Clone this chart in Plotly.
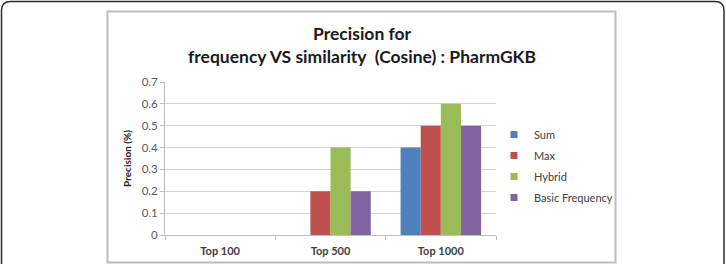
import plotly.graph_objects as go

categories = ["Top 100", "Top 500", "Top 1000"]
series_names = ["Sum", "Max", "Hybrid", "Basic Frequency"]
sum_vals = [0, 0, 0.4]
max_vals = [0, 0.2, 0.5]
hybrid_vals = [0, 0.4, 0.6]
basic_vals = [0, 0.2, 0.5]
y_ticks = [0, 0.1, 0.2, 0.3, 0.4, 0.5, 0.6, 0.7]
y_tick_labels = ["0", "0.1", "0.2", "0.3", "0.4", "0.5", "0.6", "0.7"]
colors = ["#4F81BD", "#C0504D", "#9BBB59", "#8064A2"]

FONT = "Lato"
W, H = 726, 264
L, R, T, B = 165, 496, 82, 235

fig = go.Figure()
for name, vals, c in zip(series_names, [sum_vals, max_vals, hybrid_vals, basic_vals], colors):
    fig.add_trace(go.Bar(x=categories, y=vals, name=name, marker_color=c,
                         marker_line_width=0, showlegend=False))
for name, c in zip(series_names, colors):
    fig.add_trace(go.Scatter(x=[None], y=[None], mode="markers", name=name,
                             legendgroup=name,
                             marker=dict(symbol="square", size=7, color=c)))

def px(x):
    return (x - L) / (R - L)

def py(y):
    return (B - y) / (B - T)

def rrect(x0, y0, x1, y1, r):
    pts = []
    pts.append(f"M {px(x0)},{py(y1)}")
    pts.append(f"L {px(x0)},{py(y0 + r)}")
    pts.append(f"Q {px(x0)},{py(y0)} {px(x0 + r)},{py(y0)}")
    pts.append(f"L {px(x1 - r)},{py(y0)}")
    pts.append(f"Q {px(x1)},{py(y0)} {px(x1)},{py(y0 + r)}")
    pts.append(f"L {px(x1)},{py(y1)}")
    return " ".join(pts)

shapes = [
    dict(type="path", xref="paper", yref="paper", path=rrect(1.5, 1.5, 724, 280, 9),
         line=dict(color="#2b2b2b", width=1.5)),
    dict(type="rect", xref="paper", yref="paper", x0=px(107.5), x1=px(615.5),
         y0=py(262.5), y1=py(11.5), line=dict(color="#BDBDBD", width=2), layer="below"),
]

fig.update_layout(
    width=W, height=H,
    margin=dict(l=L, r=W - R, t=T, b=H - B, autoexpand=False),
    paper_bgcolor="white", plot_bgcolor="white",
    barmode="group", bargap=0.27, bargroupgap=0,
    font=dict(family=FONT, color="#595959", size=11),
    showlegend=True,
    legend=dict(x=px(494), y=py(120), xanchor="left", yanchor="top",
                traceorder="grouped", tracegroupgap=2,
                font=dict(family=FONT, size=11, color="#404040"),
                itemsizing="trace", bgcolor="rgba(0,0,0,0)"),
    shapes=shapes,
    annotations=[
        dict(text="<b>Precision for</b>", xref="paper", yref="paper",
             x=px(362), y=py(33), xanchor="center", yanchor="middle", showarrow=False,
             font=dict(family=FONT, size=17.5, color="#1a1a1a")),
        dict(text="<b>frequency VS similarity  (Cosine) : PharmGKB</b>", xref="paper", yref="paper",
             x=px(362), y=py(57), xanchor="center", yanchor="middle", showarrow=False,
             font=dict(family=FONT, size=17.5, color="#1a1a1a")),
    ],
)
fig.update_xaxes(type="category", showline=True, linecolor="#BFBFBF", linewidth=1,
                 ticks="outside", tickson="boundaries", ticklen=4, tickcolor="#BFBFBF",
                 showgrid=False, tickfont=dict(family=FONT, size=11, color="#404040"),
                 ticklabelstandoff=6, automargin=False,
                 tickprefix="<b>", ticksuffix="</b>")
fig.update_yaxes(range=[0, 0.7], tickvals=y_ticks, ticktext=y_tick_labels,
                 showline=True, linecolor="#BFBFBF", linewidth=1,
                 ticks="outside", ticklen=4, tickcolor="#BFBFBF",
                 showgrid=True, gridcolor="#D4D4D4", gridwidth=1, zeroline=False,
                 automargin=False,
                 tickfont=dict(family=FONT, size=11.5, color="#595959"),
                 title=dict(text="<b>Precision (%)</b>", standoff=8,
                            font=dict(family=FONT, size=10, color="#262626")))

fig.write_html("out.html")
